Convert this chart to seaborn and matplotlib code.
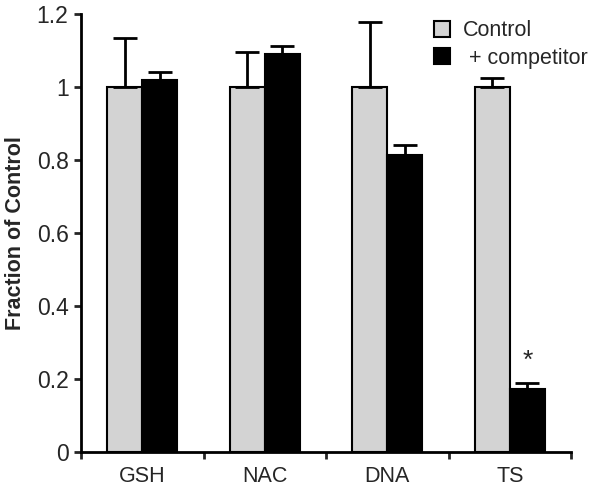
import matplotlib
matplotlib.use("Agg")
import matplotlib.pyplot as plt
import seaborn as sns
import pandas as pd
import numpy as np

categories = ["GSH", "NAC", "DNA", "TS"]
series = ["Control", " + competitor"]
control_vals = [1.0, 1.0, 1.0, 1.0]
control_err = [0.133, 0.097, 0.177, 0.025]
comp_vals = [1.02, 1.09, 0.815, 0.172]
comp_err = [0.022, 0.023, 0.025, 0.018]
yticks = [0, 0.2, 0.4, 0.6, 0.8, 1.0, 1.2]
ytick_labels = ["0", "0.2", "0.4", "0.6", "0.8", "1", "1.2"]

sns.set_style("ticks")
plt.rcParams['font.family'] = ['Liberation Sans', 'DejaVu Sans']

df = pd.DataFrame({
    "cat": categories * 2,
    "series": [series[0]] * 4 + [series[1]] * 4,
    "val": control_vals + comp_vals,
})

fig = plt.figure(figsize=(6, 4.92), dpi=100)
ax = fig.add_axes([0.135, 0.081, 0.817, 0.8905])
sns.barplot(data=df, x="cat", y="val", hue="series", order=categories,
            hue_order=series, palette=["#d3d3d3", "#000000"], width=0.57,
            edgecolor="black", linewidth=1.5, errorbar=None, ax=ax, legend=False)

errs = control_err + comp_err
vals = control_vals + comp_vals
bars = [p for p in ax.patches][:8]
for p, v, e in zip(bars, vals, errs):
    xc = p.get_x() + p.get_width() / 2
    ax.errorbar([xc], [v], yerr=[[0], [e]], fmt="none", ecolor="black",
                elinewidth=2, capsize=8.3, capthick=2, zorder=3)

# significance star
ts_bar = bars[7]
ax.text(ts_bar.get_x() + ts_bar.get_width() / 2, 0.25, "*", ha="center",
        va="center", fontsize=19)

ax.set_ylim(0, 1.2)
ax.set_xlim(-0.5, 3.5)
ax.set_yticks(yticks)
ax.set_yticklabels(ytick_labels, fontsize=16.5)
ax.set_xticks(range(len(categories)))
ax.set_xticklabels(categories, fontsize=15.5)
ax.tick_params(axis="x", length=0, pad=10)
ax.set_xticks([-0.5, 0.5, 1.5, 2.5, 3.5], minor=True)
ax.tick_params(axis="x", which="minor", length=5, width=2, direction="out")
ax.tick_params(axis="y", length=5, width=2, direction="out", pad=4)
ax.set_xlabel("")
ax.set_ylabel("Fraction of Control", fontsize=15.5, fontweight="bold", labelpad=8)
for s in ["top", "right"]:
    ax.spines[s].set_visible(False)
for s in ["left", "bottom"]:
    ax.spines[s].set_linewidth(2)
    ax.spines[s].set_color("black")

from matplotlib.patches import Patch
handles = [Patch(facecolor="#d3d3d3", edgecolor="black", linewidth=1.5),
           Patch(facecolor="black", edgecolor="black", linewidth=1.5)]
ax.legend(handles, series, loc="upper left", bbox_to_anchor=(0.68, 1.03),
          frameon=False, fontsize=15.5, handlelength=0.75, handleheight=0.75,
          handletextpad=0.6, labelspacing=0.3)

fig.savefig("out.png", dpi=100)
